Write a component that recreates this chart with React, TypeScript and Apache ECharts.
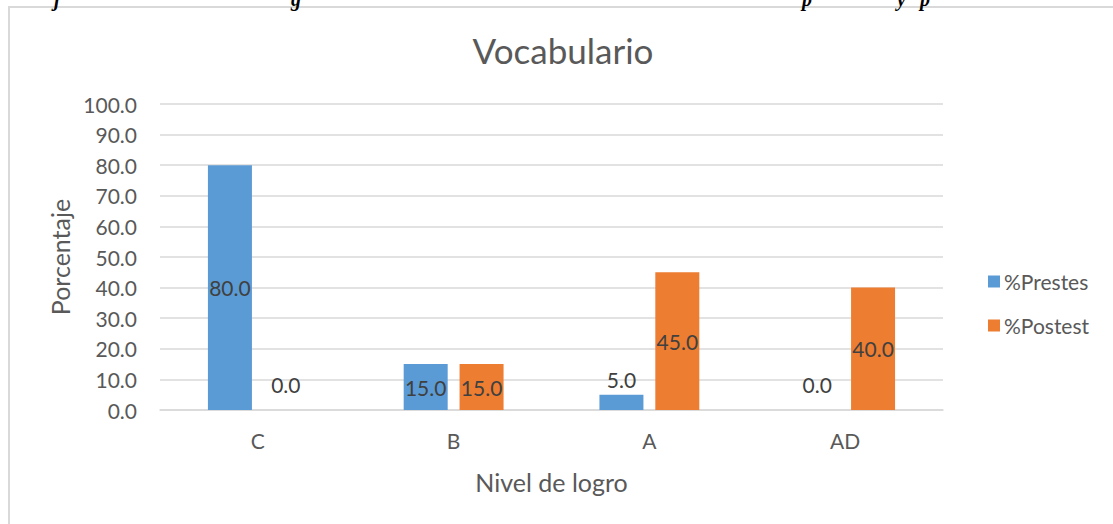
import React, { useEffect, useRef } from "react";
import * as echarts from "echarts";

const categories = ["C", "B", "A", "AD"];
const prestes = [80.0, 15.0, 5.0, 0.0];
const postest = [0.0, 15.0, 45.0, 40.0];
const seriesNames = ["%Prestes", "%Postest"];
const colors = ["#5B9BD5", "#ED7D31"];
const yMin = 0;
const yMax = 100;
const yInterval = 10;

const FONT = "Lato";
const TXT = "#595959";

function makeData(values: number[]) {
  return values.map((v) => {
    if (v < 10) {
      return {
        value: v,
        label: { position: "top", distance: v === 0 ? 15 : 5 },
      };
    }
    return { value: v };
  });
}

export default function App() {
  const ref = useRef<HTMLDivElement>(null);
  useEffect(() => {
    if (!ref.current) return;
    const chart = echarts.init(ref.current, undefined, { renderer: "svg" });
    const label = {
      show: true,
      position: "inside",
      formatter: (p: any) => Number(p.value).toFixed(1),
      fontFamily: FONT,
      fontSize: 21,
      color: "#404040",
    };
    chart.setOption({
      animation: false,
      textStyle: { fontFamily: FONT },
      graphic: [
        {
          type: "rect",
          shape: { x: 9, y: 7, width: 1120, height: 530 },
          style: { fill: "none", stroke: "#D9D9D9", lineWidth: 2 },
          silent: true,
        },
        {
          type: "text",
          x: 563,
          y: 32,
          style: {
            text: "Vocabulario",
            fontFamily: FONT,
            fontSize: 35,
            fill: TXT,
            textAlign: "center",
            textVerticalAlign: "top",
          },
        },
        ...[
          { t: "j", x: 54 },
          { t: "g", x: 291 },
          { t: "p", x: 802 },
          { t: "y", x: 897 },
          { t: "p", x: 920 },
        ].map((g) => ({
          type: "text",
          x: g.x,
          y: -11,
          style: {
            text: g.t,
            fontFamily: "Liberation Serif",
            fontStyle: "italic",
            fontWeight: "bold",
            fontSize: 20,
            fill: "#000",
            textAlign: "left",
            textVerticalAlign: "top",
          },
        })),
      ],
      legend: {
        orient: "vertical",
        left: 983,
        top: 266,
        itemWidth: 12,
        itemHeight: 12,
        itemGap: 23,
        icon: "rect",
        data: seriesNames,
        textStyle: { fontFamily: FONT, fontSize: 21, color: TXT, padding: [0, 0, 0, -1] },
      },
      grid: { left: 160, right: 170, top: 104, bottom: 114 },
      xAxis: {
        type: "category",
        data: categories,
        name: "Nivel de logro",
        nameLocation: "middle",
        nameGap: 59,
        nameTextStyle: { fontFamily: FONT, fontSize: 25, color: TXT },
        axisLine: { lineStyle: { color: "#D9D9D9", width: 1.5 } },
        axisTick: { show: false },
        axisLabel: { fontFamily: FONT, fontSize: 21, color: TXT, margin: 20 },
      },
      yAxis: {
        type: "value",
        min: yMin,
        max: yMax,
        interval: yInterval,
        name: "Porcentaje",
        nameLocation: "middle",
        nameGap: 85,
        nameTextStyle: { fontFamily: FONT, fontSize: 25, color: TXT },
        axisLine: { show: false },
        axisTick: { show: false },
        axisLabel: {
          fontFamily: FONT,
          fontSize: 21,
          color: TXT,
          margin: 23,
          formatter: (v: number) => v.toFixed(1),
        },
        splitLine: { lineStyle: { color: "#D9D9D9", width: 1.5 } },
      },
      series: [
        {
          name: seriesNames[0],
          type: "bar",
          data: makeData(prestes),
          barWidth: 44,
          barGap: "27%",
          itemStyle: { color: colors[0] },
          label,
        },
        {
          name: seriesNames[1],
          type: "bar",
          data: makeData(postest),
          barWidth: 44,
          barGap: "27%",
          itemStyle: { color: colors[1] },
          label,
        },
      ],
    });
    return () => chart.dispose();
  }, []);
  return (
    <div
      ref={ref}
      style={{ position: "fixed", left: 0, top: 0, width: 1113, height: 524, background: "#fff" }}
    />
  );
}
